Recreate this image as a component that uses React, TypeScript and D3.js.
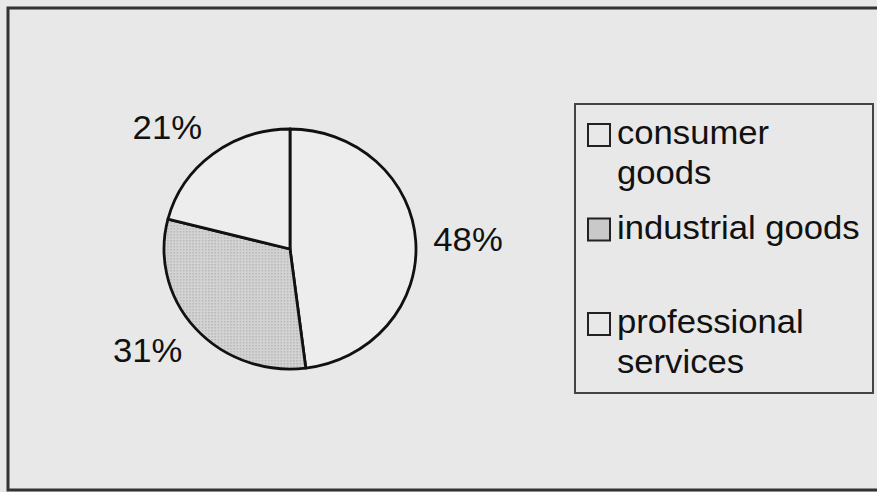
import { useMemo } from "react"
import * as d3 from "d3"

const categories = ["consumer goods", "industrial goods", "professional services"]
const values = [48, 31, 21]
const labels = ["48%", "31%", "21%"]
const legendLines = [["consumer", "goods"], ["industrial goods"], ["professional", "services"]]

const W = 877
const H = 492
const FONT = "'Liberation Sans', Arial, Helvetica, sans-serif"
const FS = 33
const STRETCH = 1.05

export default function App() {
  const cx = 290
  const cy = 249
  const r = 120
  const sx = 1.05

  const arcs = useMemo(
    () =>
      d3
        .pie<number>()
        .sort(null)
        .value((d) => d)(values),
    []
  )

  const arc = d3.arc<d3.PieArcDatum<number>>().innerRadius(0).outerRadius(r)

  const fills = ["#ededed", "url(#dots)", "#ededed"]
  const markerFills = ["#e8e8e8", "#c9c9c9", "#e8e8e8"]

  const legendY = d3.scalePoint<string>().domain(categories).range([124, 313])

  // label anchor point just outside the pie, Excel-style placement
  const labelR = r * 1.14
  const boxH = 34

  return (
    <svg
      width={W}
      height={H}
      style={{ position: "absolute", left: 0, top: 0, display: "block" }}
      fontFamily={FONT}
    >
      <defs>
        <pattern id="dots" width="3" height="3" patternUnits="userSpaceOnUse">
          <rect width="3" height="3" fill="#d3d3d3" />
          <rect width="1.5" height="1.5" fill="#b9b9b9" />
        </pattern>
      </defs>
      <rect width={W} height={H} fill="#e8e8e8" />
      {/* outer frame */}
      <rect x={8} y={8} width={W + 10} height={482} fill="none" stroke="#333" strokeWidth={3} />

      {/* pie */}
      <g transform={`translate(${cx},${cy}) scale(${sx},1)`}>
        {arcs.map((a, i) => (
          <path
            key={categories[i]}
            d={arc(a) ?? ""}
            fill={fills[i]}
            stroke="#111"
            strokeWidth={2.8}
            vectorEffect="non-scaling-stroke"
            strokeLinejoin="round"
          />
        ))}
      </g>

      {/* percentage labels */}
      {arcs.map((a, i) => {
        const mid = (a.startAngle + a.endAngle) / 2
        const px = cx + Math.sin(mid) * labelR * sx
        const py = cy - Math.cos(mid) * labelR - (Math.cos(mid) * boxH) / 2
        const right = Math.sin(mid) > 0
        return (
          <text
            key={labels[i]}
            transform={`translate(${px},${py}) scale(${STRETCH},1)`}
            fontSize={FS}
            fill="#111"
            textAnchor={right ? "start" : "end"}
            dominantBaseline="central"
          >
            {labels[i]}
          </text>
        )
      })}

      {/* legend */}
      <rect x={575} y={104} width={298} height={289} fill="none" stroke="#444" strokeWidth={2} />
      {categories.map((c, i) => {
        const y0 = legendY(c) ?? 0
        return (
          <g key={c}>
            <rect x={588} y={y0} width={22} height={22} fill={markerFills[i]} stroke="#222" strokeWidth={2} />
            {legendLines[i].map((line, j) => (
              <text
                key={line}
                transform={`translate(617,${y0 + 20 + j * 40}) scale(${STRETCH},1)`}
                fontSize={FS}
                fill="#111"
              >
                {line}
              </text>
            ))}
          </g>
        )
      })}
    </svg>
  )
}
